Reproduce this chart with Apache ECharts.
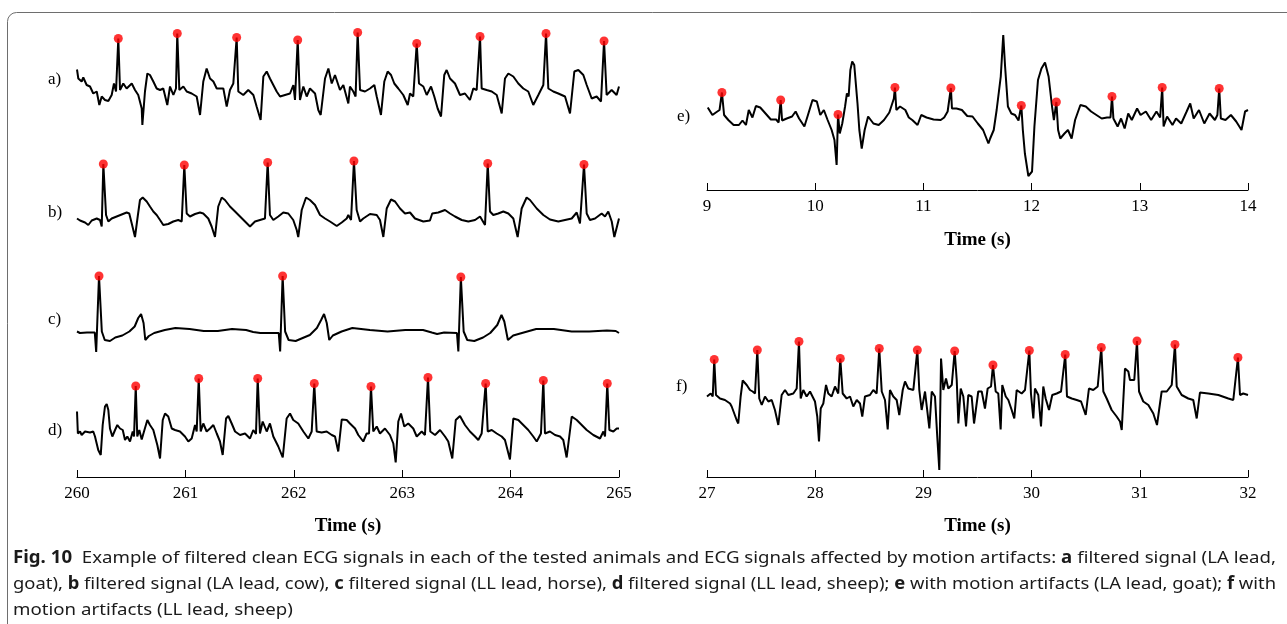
<!DOCTYPE html>
<html>
<head>
<meta charset="utf-8">
<script src="https://cdn.jsdelivr.net/npm/echarts@6/dist/echarts.min.js"></script>
<style>
  html, body { margin: 0; padding: 0; background: #ffffff; }
  #chart { width: 1287px; height: 624px; }
</style>
</head>
<body>
<div id="chart"></div>
<script>
// ECG traces: [time (s), amplitude (a.u.)]
const traceA = [[260.000,0.37],[260.012,0.19],[260.043,0.13],[260.058,0.21],[260.089,0.06],[260.120,0.03],[260.150,-0.11],[260.182,-0.07],[260.206,-0.34],[260.228,-0.17],[260.258,-0.24],[260.289,-0.26],[260.320,-0.14],[260.341,0.09],[260.360,-0.07],[260.381,0.99],[260.397,-0.04],[260.427,0.09],[260.458,-0.01],[260.505,0.09],[260.535,-0.04],[260.565,-0.14],[260.597,-0.41],[260.603,-0.74],[260.627,-0.07],[260.649,0.29],[260.673,0.26],[260.704,0.13],[260.735,-0.01],[260.766,-0.04],[260.796,-0.01],[260.833,-0.34],[260.858,0.03],[260.889,-0.14],[260.913,-0.01],[260.925,1.09],[260.944,-0.04],[260.981,0.03],[261.012,-0.07],[261.058,-0.11],[261.104,-0.17],[261.135,-0.54],[261.165,0.13],[261.196,0.39],[261.227,0.19],[261.258,0.13],[261.289,-0.01],[261.350,-0.01],[261.381,-0.37],[261.411,-0.04],[261.442,0.09],[261.473,1.01],[261.488,-0.07],[261.534,-0.14],[261.580,-0.04],[261.627,-0.14],[261.657,-0.37],[261.694,-0.64],[261.719,0.23],[261.750,0.33],[261.780,0.19],[261.811,0.06],[261.842,-0.07],[261.873,-0.17],[261.919,-0.14],[261.965,-0.11],[261.996,0.06],[262.011,-0.24],[262.036,0.96],[262.057,-0.24],[262.088,0.03],[262.119,-0.17],[262.149,-0.01],[262.196,-0.11],[262.226,-0.44],[262.248,-0.54],[262.288,0.19],[262.319,0.39],[262.350,0.09],[262.380,0.26],[262.426,-0.04],[262.457,0.06],[262.503,-0.31],[262.518,0.03],[262.549,-0.07],[262.570,-0.17],[262.589,1.11],[262.611,-0.04],[262.657,-0.07],[262.703,-0.01],[262.743,0.06],[262.765,-0.17],[262.804,-0.54],[262.835,0.13],[262.866,0.33],[262.897,0.26],[262.927,0.09],[262.964,-0.01],[263.010,-0.14],[263.051,-0.34],[263.072,-0.11],[263.102,-0.17],[263.134,0.89],[263.155,0.09],[263.195,0.03],[263.226,-0.14],[263.266,0.03],[263.296,-0.17],[263.327,-0.41],[263.358,-0.57],[263.388,0.26],[263.410,0.36],[263.441,0.19],[263.487,0.09],[263.533,-0.14],[263.579,-0.11],[263.625,-0.24],[263.656,-0.01],[263.687,-0.04],[263.718,1.03],[263.733,-0.01],[263.779,-0.04],[263.826,-0.07],[263.872,-0.14],[263.918,-0.51],[263.948,0.19],[263.979,0.29],[264.025,0.23],[264.071,0.09],[264.117,-0.01],[264.163,-0.07],[264.209,-0.34],[264.256,-0.14],[264.302,0.06],[264.327,1.09],[264.348,-0.01],[264.394,-0.07],[264.440,-0.11],[264.502,-0.17],[264.548,-0.51],[264.588,0.33],[264.625,0.36],[264.671,0.26],[264.702,0.06],[264.748,-0.21],[264.794,-0.17],[264.834,-0.27],[264.862,0.94],[264.886,-0.14],[264.932,-0.04],[264.978,-0.14],[265.000,0.03]];

const traceB = [[260.000,0.07],[260.028,0.03],[260.074,-0.01],[260.104,-0.06],[260.136,0.03],[260.182,0.07],[260.212,0.04],[260.228,-0.09],[260.243,1.16],[260.268,0.14],[260.289,0.01],[260.320,0.07],[260.366,0.11],[260.412,0.15],[260.458,0.19],[260.482,0.17],[260.505,-0.03],[260.535,-0.30],[260.560,0.11],[260.581,0.44],[260.606,0.49],[260.643,0.41],[260.673,0.31],[260.704,0.21],[260.735,0.14],[260.766,0.04],[260.796,-0.06],[260.842,-0.04],[260.888,0.01],[260.934,0.04],[260.966,0.01],[260.990,1.14],[261.012,0.17],[261.042,0.11],[261.089,0.16],[261.135,0.19],[261.165,0.17],[261.211,0.07],[261.242,-0.09],[261.273,-0.30],[261.303,0.31],[261.335,0.49],[261.365,0.44],[261.411,0.31],[261.458,0.21],[261.504,0.11],[261.550,0.01],[261.596,-0.09],[261.642,0.01],[261.688,0.04],[261.734,0.07],[261.759,1.19],[261.780,0.14],[261.811,0.04],[261.857,0.11],[261.903,0.19],[261.949,0.17],[261.995,0.04],[262.027,-0.16],[262.041,-0.30],[262.073,0.24],[262.113,0.49],[262.149,0.44],[262.196,0.34],[262.242,0.14],[262.288,0.07],[262.334,0.01],[262.396,-0.08],[262.442,-0.01],[262.488,0.07],[262.503,0.14],[262.528,0.04],[262.555,1.22],[262.580,0.24],[262.611,0.01],[262.641,0.07],[262.703,0.16],[262.765,0.14],[262.795,0.04],[262.826,-0.30],[262.857,0.27],[262.897,0.45],[262.934,0.41],[262.980,0.27],[263.026,0.17],[263.072,0.19],[263.118,0.07],[263.195,0.01],[263.256,0.03],[263.277,0.17],[263.333,0.19],[263.395,0.24],[263.441,0.17],[263.487,0.11],[263.549,0.04],[263.610,0.01],[263.672,0.04],[263.718,0.11],[263.764,-0.06],[263.789,1.17],[263.810,0.21],[263.840,0.14],[263.886,0.17],[263.933,0.21],[263.979,0.17],[264.025,0.07],[264.065,-0.30],[264.102,0.27],[264.148,0.49],[264.179,0.44],[264.241,0.27],[264.302,0.14],[264.363,0.05],[264.440,0.01],[264.502,0.04],[264.564,0.07],[264.610,0.19],[264.640,-0.03],[264.677,1.15],[264.702,0.17],[264.732,0.04],[264.779,0.07],[264.840,0.17],[264.871,0.11],[264.901,0.21],[264.933,0.01],[264.957,-0.30],[265.000,0.07]];

const traceC = [[260.000,0.00],[260.027,-0.03],[260.092,-0.02],[260.164,-0.02],[260.177,-0.41],[260.203,1.11],[260.229,0.00],[260.256,-0.17],[260.304,-0.19],[260.353,-0.12],[260.418,-0.08],[260.483,0.00],[260.532,0.10],[260.565,0.27],[260.591,0.35],[260.614,0.17],[260.630,-0.17],[260.663,-0.09],[260.712,-0.03],[260.810,0.03],[260.908,0.07],[261.038,0.05],[261.169,0.01],[261.299,0.01],[261.430,0.05],[261.560,0.03],[261.625,-0.01],[261.691,-0.03],[261.805,-0.03],[261.861,-0.03],[261.874,-0.40],[261.897,1.11],[261.920,0.00],[261.952,-0.17],[262.017,-0.19],[262.082,-0.13],[262.148,-0.07],[262.213,0.07],[262.252,0.23],[262.279,0.35],[262.304,0.17],[262.327,-0.17],[262.360,-0.08],[262.441,0.00],[262.540,0.07],[262.702,0.03],[262.865,0.00],[263.029,0.03],[263.192,0.03],[263.273,-0.02],[263.322,-0.05],[263.387,-0.02],[263.505,-0.03],[263.518,-0.40],[263.541,1.09],[263.567,0.00],[263.600,-0.17],[263.665,-0.19],[263.746,-0.12],[263.812,-0.03],[263.877,0.13],[263.916,0.33],[263.942,0.20],[263.975,-0.17],[264.024,-0.08],[264.105,-0.03],[264.236,0.05],[264.399,0.05],[264.563,0.00],[264.725,0.00],[264.888,0.02],[264.970,0.01],[265.000,-0.03]];

const traceD = [[260.000,0.43],[260.008,-0.01],[260.028,0.03],[260.043,-0.04],[260.074,0.03],[260.120,0.01],[260.150,0.03],[260.166,-0.07],[260.196,-0.34],[260.219,-0.44],[260.237,0.16],[260.258,0.53],[260.274,0.58],[260.289,0.46],[260.304,0.09],[260.326,-0.07],[260.351,0.06],[260.372,0.16],[260.397,0.09],[260.422,0.06],[260.443,-0.14],[260.464,-0.07],[260.489,-0.17],[260.514,0.03],[260.526,-0.07],[260.542,0.94],[260.556,-0.07],[260.575,0.06],[260.597,-0.13],[260.618,0.03],[260.649,0.26],[260.673,0.16],[260.704,0.06],[260.741,-0.24],[260.766,-0.51],[260.791,0.26],[260.812,0.39],[260.842,0.33],[260.874,0.09],[260.904,0.06],[260.950,0.03],[260.996,-0.07],[261.027,-0.17],[261.058,-0.11],[261.089,0.16],[261.104,0.03],[261.123,1.09],[261.141,0.03],[261.165,0.19],[261.196,0.03],[261.227,0.09],[261.258,0.16],[261.289,-0.01],[261.319,-0.17],[261.344,-0.44],[261.375,0.29],[261.396,0.34],[261.427,0.19],[261.458,0.03],[261.504,-0.04],[261.550,-0.01],[261.596,-0.11],[261.626,0.06],[261.651,-0.02],[261.667,1.09],[261.688,-0.01],[261.713,0.23],[261.750,0.03],[261.780,0.19],[261.811,-0.07],[261.857,-0.27],[261.898,-0.49],[261.934,0.29],[261.965,0.39],[261.995,0.26],[262.041,0.19],[262.088,0.03],[262.134,-0.11],[262.165,0.03],[262.189,0.99],[262.211,0.03],[262.257,0.01],[262.303,0.03],[262.350,-0.04],[262.380,-0.07],[262.410,-0.37],[262.442,0.27],[262.488,0.26],[262.518,0.19],[262.565,0.09],[262.595,-0.04],[262.641,-0.17],[262.672,-0.01],[262.694,-0.01],[262.712,0.93],[262.733,0.03],[262.765,0.13],[262.795,-0.01],[262.841,0.09],[262.887,-0.04],[262.918,-0.21],[262.940,-0.59],[262.964,0.23],[262.989,0.39],[263.019,0.13],[263.056,0.19],[263.102,0.09],[263.134,-0.07],[263.180,0.03],[263.210,-0.04],[263.238,1.11],[263.259,0.03],[263.303,-0.04],[263.349,0.06],[263.395,-0.07],[263.425,-0.17],[263.462,-0.51],[263.494,0.26],[263.533,0.34],[263.579,0.16],[263.625,0.03],[263.672,-0.07],[263.702,-0.14],[263.733,-0.01],[263.748,-0.01],[263.770,0.99],[263.789,0.03],[263.826,0.06],[263.872,-0.01],[263.918,-0.07],[263.948,-0.14],[263.994,-0.53],[264.025,0.29],[264.071,0.26],[264.117,0.16],[264.163,0.06],[264.209,-0.07],[264.241,-0.17],[264.280,-0.01],[264.302,1.05],[264.317,-0.01],[264.363,0.03],[264.410,-0.04],[264.456,-0.07],[264.486,-0.14],[264.517,-0.49],[264.564,0.33],[264.610,0.26],[264.656,0.16],[264.702,0.06],[264.763,-0.04],[264.825,-0.11],[264.856,0.03],[264.871,-0.07],[264.892,0.99],[264.911,0.06],[264.948,0.03],[264.979,0.09],[265.000,0.09]];

const traceE = [[9.007,0.25],[9.050,0.10],[9.082,0.15],[9.116,0.20],[9.138,0.55],[9.158,0.10],[9.197,0.00],[9.246,-0.10],[9.295,-0.10],[9.328,-0.01],[9.360,-0.10],[9.386,0.20],[9.420,0.05],[9.452,0.28],[9.492,0.25],[9.541,0.13],[9.590,0.01],[9.639,0.01],[9.662,-0.05],[9.681,0.40],[9.694,-0.01],[9.737,0.03],[9.786,0.07],[9.819,0.17],[9.851,0.03],[9.900,-0.13],[9.933,0.10],[9.975,0.40],[10.015,0.37],[10.047,0.10],[10.080,0.20],[10.113,0.01],[10.152,-0.20],[10.178,-0.40],[10.198,-0.90],[10.211,0.11],[10.227,-0.27],[10.250,-0.07],[10.276,0.27],[10.293,0.53],[10.309,0.47],[10.325,1.00],[10.342,1.17],[10.361,1.10],[10.391,0.33],[10.408,-0.20],[10.430,-0.57],[10.457,-0.20],[10.489,0.07],[10.538,-0.07],[10.587,-0.10],[10.636,0.00],[10.685,0.15],[10.727,0.43],[10.737,0.65],[10.750,0.20],[10.784,0.27],[10.833,0.20],[10.865,0.05],[10.897,0.00],[10.946,-0.10],[10.980,0.10],[11.029,0.05],[11.094,0.01],[11.160,0.00],[11.192,0.05],[11.224,0.17],[11.254,0.64],[11.264,0.23],[11.306,0.23],[11.356,0.20],[11.405,0.08],[11.454,0.07],[11.503,-0.07],[11.552,-0.20],[11.601,-0.47],[11.617,-0.37],[11.650,-0.20],[11.677,0.20],[11.715,0.87],[11.738,1.70],[11.755,1.07],[11.781,0.27],[11.813,0.13],[11.847,0.10],[11.879,-0.01],[11.905,0.29],[11.919,-0.20],[11.938,-0.67],[11.970,-1.12],[12.004,-1.03],[12.026,-0.13],[12.059,0.80],[12.091,1.03],[12.124,1.15],[12.157,0.87],[12.189,0.27],[12.206,0.00],[12.229,0.36],[12.245,-0.20],[12.265,-0.37],[12.304,-0.27],[12.336,-0.20],[12.370,-0.37],[12.402,0.00],[12.451,0.30],[12.501,0.27],[12.550,0.17],[12.599,0.10],[12.648,0.03],[12.697,0.05],[12.729,0.05],[12.743,0.47],[12.756,0.03],[12.795,-0.13],[12.827,0.03],[12.860,-0.17],[12.893,0.13],[12.926,0.00],[12.975,0.23],[13.007,0.10],[13.056,0.17],[13.105,0.00],[13.154,0.17],[13.188,0.05],[13.207,0.65],[13.220,-0.13],[13.252,0.07],[13.302,-0.10],[13.335,0.03],[13.383,-0.07],[13.433,0.17],[13.466,0.33],[13.498,0.03],[13.547,0.20],[13.596,-0.07],[13.645,0.13],[13.694,0.00],[13.717,0.10],[13.734,0.63],[13.749,0.03],[13.792,0.00],[13.842,0.10],[13.891,-0.03],[13.940,-0.20],[13.973,0.17],[14.000,0.20]];

const traceF = [[27.000,0.01],[27.012,0.01],[27.034,0.07],[27.053,0.01],[27.067,0.75],[27.083,0.04],[27.120,-0.03],[27.166,-0.06],[27.213,-0.13],[27.228,-0.19],[27.243,-0.16],[27.274,-0.46],[27.289,-0.53],[27.311,0.01],[27.330,0.33],[27.367,0.24],[27.397,0.14],[27.422,0.11],[27.444,0.07],[27.465,0.94],[27.483,-0.03],[27.506,-0.16],[27.536,0.01],[27.567,-0.09],[27.598,-0.06],[27.628,-0.26],[27.659,-0.56],[27.690,0.04],[27.721,0.14],[27.751,0.04],[27.798,0.07],[27.829,0.17],[27.850,1.11],[27.866,-0.03],[27.890,0.14],[27.921,0.01],[27.952,0.11],[27.998,-0.09],[28.019,-0.39],[28.035,-0.89],[28.051,-0.23],[28.075,-0.13],[28.100,0.24],[28.121,0.07],[28.152,0.01],[28.183,0.21],[28.213,0.07],[28.232,0.77],[28.254,0.07],[28.291,-0.03],[28.322,0.01],[28.352,-0.19],[28.384,-0.06],[28.414,-0.13],[28.435,-0.39],[28.460,0.01],[28.506,0.04],[28.537,0.14],[28.568,0.07],[28.592,0.97],[28.615,0.11],[28.645,-0.06],[28.670,-0.65],[28.691,0.14],[28.722,0.01],[28.753,-0.06],[28.777,-0.36],[28.809,0.14],[28.830,0.31],[28.860,0.17],[28.907,0.14],[28.944,0.94],[28.962,0.14],[28.984,-0.26],[29.015,0.11],[29.055,-0.63],[29.077,0.11],[29.107,0.01],[29.128,-0.79],[29.147,-1.46],[29.163,0.77],[29.184,0.14],[29.209,0.37],[29.230,0.17],[29.262,0.24],[29.289,0.92],[29.308,0.34],[29.323,-0.53],[29.345,0.17],[29.369,0.01],[29.394,-0.59],[29.415,0.04],[29.446,0.01],[29.468,-0.53],[29.507,0.11],[29.539,0.11],[29.569,-0.23],[29.594,0.17],[29.625,0.21],[29.643,0.64],[29.668,0.11],[29.692,0.07],[29.714,-0.65],[29.729,0.24],[29.761,0.01],[29.785,-0.06],[29.816,-0.26],[29.840,-0.43],[29.862,0.14],[29.908,0.07],[29.939,0.14],[29.979,0.93],[29.994,0.07],[30.016,-0.43],[30.031,0.17],[30.062,0.04],[30.087,-0.59],[30.108,0.21],[30.130,-0.03],[30.161,-0.26],[30.191,0.04],[30.232,0.07],[30.272,0.11],[30.311,0.85],[30.327,0.01],[30.371,-0.03],[30.417,-0.06],[30.457,-0.09],[30.500,-0.36],[30.530,0.17],[30.570,0.14],[30.611,0.21],[30.644,0.99],[30.663,0.11],[30.694,-0.03],[30.740,-0.26],[30.786,-0.39],[30.817,-0.49],[30.833,-0.66],[30.863,0.57],[30.894,0.51],[30.909,0.34],[30.949,0.34],[30.974,1.12],[30.993,0.11],[31.032,-0.09],[31.079,-0.16],[31.125,-0.33],[31.159,-0.56],[31.202,0.11],[31.249,0.11],[31.295,0.24],[31.325,1.05],[31.341,0.21],[31.387,0.04],[31.448,-0.03],[31.494,-0.06],[31.526,-0.43],[31.556,0.09],[31.633,0.07],[31.726,0.04],[31.818,-0.03],[31.864,-0.06],[31.907,0.79],[31.926,0.04],[31.956,0.07],[32.000,0.04]];

// Detected R peaks: [time (s), amplitude (a.u.)]
const peaksA = [[260.381,0.99],[260.925,1.09],[261.473,1.01],[262.036,0.96],[262.589,1.11],[263.134,0.89],[263.718,1.03],[264.327,1.09],[264.862,0.94]];
const peaksB = [[260.243,1.16],[260.990,1.14],[261.759,1.19],[262.555,1.22],[263.789,1.17],[264.677,1.15]];
const peaksC = [[260.203,1.11],[261.897,1.11],[263.541,1.09]];
const peaksD = [[260.542,0.94],[261.123,1.09],[261.667,1.09],[262.189,0.99],[262.712,0.93],[263.238,1.11],[263.770,0.99],[264.302,1.05],[264.892,0.99]];
const peaksE = [[9.138,0.55],[9.681,0.40],[10.211,0.11],[10.737,0.65],[11.254,0.64],[11.905,0.29],[12.229,0.36],[12.743,0.47],[13.207,0.65],[13.734,0.63]];
const peaksF = [[27.067,0.75],[27.465,0.94],[27.850,1.11],[28.232,0.77],[28.592,0.97],[28.944,0.94],[29.289,0.92],[29.643,0.64],[29.979,0.93],[30.311,0.85],[30.644,0.99],[30.974,1.12],[31.325,1.05],[31.907,0.79]];

// Time ranges and panel tags
const rangeLeft = [260, 265];
const rangeE = [9, 14];
const rangeF = [27, 32];
const panelTags = ['a)', 'b)', 'c)', 'd)', 'e)', 'f)'];
const axisTitle = 'Time (s)';

// Caption, split in lines; "b" marks bold runs
const captionLines = [
  [['Fig. 10', 'b'], ['  Example of filtered clean ECG signals in each of the tested animals and ECG signals affected by motion artifacts: ', 'n'], ['a', 'b'], [' filtered signal (LA lead,', 'n']],
  [['goat), ', 'n'], ['b', 'b'], [' filtered signal (LA lead, cow), ', 'n'], ['c', 'b'], [' filtered signal (LL lead, horse), ', 'n'], ['d', 'b'], [' filtered signal (LL lead, sheep); ', 'n'], ['e', 'b'], [' with motion artifacts (LA lead, goat); ', 'n'], ['f', 'b'], [' with', 'n']],
  [['motion artifacts (LL lead, sheep)', 'n']]
];

// ---- layout ----
const SERIF = '"Liberation Serif", "Times New Roman", serif';
const SANS = '"Noto Sans", "Open Sans", sans-serif';

const panels = [
  { data: traceA, peaks: peaksA, range: rangeLeft, grid: { left: 77, width: 542, top: 20, height: 110 }, y: [-0.84, 1.36], axis: false },
  { data: traceB, peaks: peaksB, range: rangeLeft, grid: { left: 77, width: 542, top: 145, height: 100 }, y: [-0.46, 1.54], axis: false },
  { data: traceC, peaks: peaksC, range: rangeLeft, grid: { left: 77, width: 542, top: 260, height: 100 }, y: [-0.57, 1.43], axis: false },
  { data: traceD, peaks: peaksD, range: rangeLeft, grid: { left: 77, width: 542, top: 365, height: 112 }, y: [-0.88, 1.36], axis: true, nameGap: 40 },
  { data: traceE, peaks: peaksE, range: rangeE, grid: { left: 707, width: 541, top: 25, height: 165 }, y: [-1.40, 1.90], axis: true, nameGap: 41 },
  { data: traceF, peaks: peaksF, range: rangeF, grid: { left: 707, width: 541, top: 330, height: 147 }, y: [-1.60, 1.34], axis: true, nameGap: 40 }
];

const tagPos = [[48, 80], [48, 213], [48, 320], [48, 431], [677, 117], [676, 387]];

const grids = [], xAxes = [], yAxes = [], series = [];
panels.forEach((p, i) => {
  grids.push(Object.assign({ containLabel: false }, p.grid));
  xAxes.push({
    type: 'value', gridIndex: i, min: p.range[0], max: p.range[1], interval: 1,
    show: p.axis,
    axisLine: { show: true, onZero: false, lineStyle: { color: '#000', width: 1 } },
    axisTick: { show: true, inside: true, length: 7, lineStyle: { color: '#000', width: 1 } },
    axisLabel: { color: '#000', fontFamily: SERIF, fontSize: 17, margin: 8 },
    splitLine: { show: false },
    name: p.axis ? axisTitle : '',
    nameLocation: 'middle', nameGap: p.nameGap || 36,
    nameTextStyle: { color: '#000', fontFamily: SERIF, fontSize: 19, fontWeight: 'bold' }
  });
  yAxes.push({ type: 'value', gridIndex: i, min: p.y[0], max: p.y[1], show: false, splitLine: { show: false } });
  series.push({
    type: 'line', xAxisIndex: i, yAxisIndex: i, data: p.data,
    showSymbol: false, symbol: 'none', smooth: false,
    lineStyle: { color: '#000', width: 2 }, z: 2, silent: true
  });
  series.push({
    type: 'scatter', xAxisIndex: i, yAxisIndex: i, data: p.peaks,
    symbol: 'circle', symbolSize: 9, itemStyle: { color: '#ff0000' }, z: 3, silent: true
  });
});

// caption text, stretched to the justified line width
const ctx = document.createElement('canvas').getContext('2d');
const CAP_SIZE = 17;
function runWidth(run) {
  ctx.font = (run[1] === 'b' ? 'bold ' : '') + CAP_SIZE + 'px ' + SANS;
  return ctx.measureText(run[0]).width;
}
function lineWidth(line) { return line.reduce((s, r) => s + runWidth(r), 0); }
const fullWidth = 1263;
const s1 = fullWidth / lineWidth(captionLines[0]);
const s2 = fullWidth / lineWidth(captionLines[1]);
const capScales = [s1, s2, s1];
const capY = [558, 584, 610];

const graphics = [
  { type: 'rect', shape: { x: 7.5, y: 12.5, width: 1320, height: 700, r: 9 }, style: { fill: null, stroke: '#6e6e6e', lineWidth: 1 }, z: 1, silent: true }
];
panelTags.forEach((t, i) => {
  graphics.push({ type: 'text', x: tagPos[i][0], y: tagPos[i][1], style: { text: t, fill: '#000', font: '17px ' + SERIF, verticalAlign: 'middle', align: 'left' }, silent: true });
});
captionLines.forEach((line, i) => {
  graphics.push({
    type: 'text', x: 13, y: capY[i], scaleX: capScales[i],
    style: {
      text: line.map(r => '{' + r[1] + '|' + r[0] + '}').join(''),
      rich: {
        b: { fontFamily: SANS, fontSize: CAP_SIZE, fontWeight: 'bold', fill: '#1a1a1a' },
        n: { fontFamily: SANS, fontSize: CAP_SIZE, fill: '#1a1a1a' }
      },
      verticalAlign: 'middle', align: 'left'
    },
    silent: true
  });
});

const chart = echarts.init(document.getElementById('chart'), null, { renderer: 'canvas' });
chart.setOption({
  animation: false,
  backgroundColor: '#ffffff',
  grid: grids,
  xAxis: xAxes,
  yAxis: yAxes,
  series: series,
  graphic: graphics
});
</script>
</body>
</html>
